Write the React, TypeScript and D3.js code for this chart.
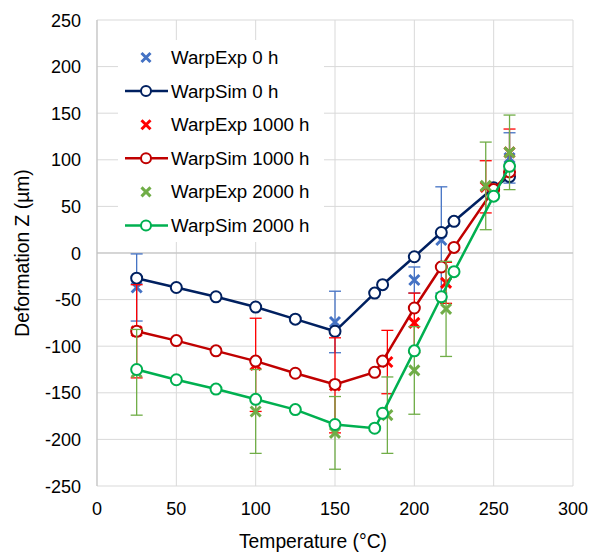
import React from "react";
import * as d3 from "d3";

// Measured warpage (markers with error bars)
const expTemp0 = [25, 150, 200, 217, 260];
const expZ0 = [-37, -74, -29, 14, 102];
const expErr0 = [36, 33, 14, 57, 27];

const expTemp1000 = [25, 100, 150, 183, 200, 220, 245, 260];
const expZ1000 = [-84, -120, -142, -117, -75, -32, 71, 108];
const expErr1000 = [50, 50, 51, 34, 32, 22, 28, 25];

const expTemp2000 = [25, 100, 150, 183, 200, 220, 245, 260];
const expZ2000 = [-128, -170, -193, -174, -126, -60, 72, 108];
const expErr2000 = [46, 45, 39, 41, 47, 51, 47, 40];

// Simulated warpage (lines with open circles)
const simTemp = [25, 50, 75, 100, 125, 150, 175, 180, 200, 217, 225, 250, 260];
const simZ0 = [-27, -37, -47, -58, -71, -84, -43, -34, -4, 22, 34, 70, 82];
const simZ1000 = [-84, -94, -105, -116, -129, -141, -128, -116, -59, -15, 6, 68, 87];
const simZ2000 = [-125, -136, -146, -157, -168, -184, -188, -172, -105, -47, -20, 61, 93];

const xTicks = [0, 50, 100, 150, 200, 250, 300];
const yTicks = [-250, -200, -150, -100, -50, 0, 50, 100, 150, 200, 250];

const W = 600;
const H = 553;
const left = 97;
const right = 573;
const top = 20;
const bottom = 486;

const FONT = "'Liberation Sans', Arial, sans-serif";

type ExpSeries = { name: string; t: number[]; z: number[]; err: number[]; color: string };
type SimSeries = { name: string; t: number[]; z: number[]; color: string };

const exps: ExpSeries[] = [
  { name: "WarpExp 0 h", t: expTemp0, z: expZ0, err: expErr0, color: "#4472C4" },
  { name: "WarpExp 1000 h", t: expTemp1000, z: expZ1000, err: expErr1000, color: "#FF0000" },
  { name: "WarpExp 2000 h", t: expTemp2000, z: expZ2000, err: expErr2000, color: "#70AD47" },
];
const sims: SimSeries[] = [
  { name: "WarpSim 0 h", t: simTemp, z: simZ0, color: "#002060" },
  { name: "WarpSim 1000 h", t: simTemp, z: simZ1000, color: "#C00000" },
  { name: "WarpSim 2000 h", t: simTemp, z: simZ2000, color: "#00B050" },
];

function XMark({ x, y, color, s = 5 }: { x: number; y: number; color: string; s?: number }) {
  return (
    <path
      d={`M${x - s},${y - s}L${x + s},${y + s}M${x - s},${y + s}L${x + s},${y - s}`}
      stroke={color}
      strokeWidth={3}
      fill="none"
    />
  );
}

export default function App() {
  const x = d3.scaleLinear().domain([0, 300]).range([left, right]);
  const y = d3.scaleLinear().domain([-250, 250]).range([bottom, top]);
  const line = d3
    .line<[number, number]>()
    .x((d) => x(d[0]))
    .y((d) => y(d[1]));

  const renderExp = (s: ExpSeries) => (
    <g key={s.name}>
      {s.t.map((t, i) => {
        const cx = x(t);
        const y1 = y(s.z[i] + s.err[i]);
        const y2 = y(s.z[i] - s.err[i]);
        return (
          <g key={i} stroke={s.color} strokeWidth={1.3}>
            <line x1={cx} x2={cx} y1={y1} y2={y2} />
            <line x1={cx - 6} x2={cx + 6} y1={y1} y2={y1} />
            <line x1={cx - 6} x2={cx + 6} y1={y2} y2={y2} />
          </g>
        );
      })}
      {s.t.map((t, i) => (
        <XMark key={"m" + i} x={x(t)} y={y(s.z[i])} color={s.color} />
      ))}
    </g>
  );

  const renderSim = (s: SimSeries) => (
    <g key={s.name}>
      <path
        d={line(s.t.map((t, i) => [t, s.z[i]] as [number, number])) || ""}
        fill="none"
        stroke={s.color}
        strokeWidth={2.5}
      />
      {s.t.map((t, i) => (
        <circle key={i} cx={x(t)} cy={y(s.z[i])} r={5.5} fill="#fff" stroke={s.color} strokeWidth={2} />
      ))}
    </g>
  );

  const legendItems = [
    { kind: "exp", s: exps[0] },
    { kind: "sim", s: sims[0] },
    { kind: "exp", s: exps[1] },
    { kind: "sim", s: sims[1] },
    { kind: "exp", s: exps[2] },
    { kind: "sim", s: sims[2] },
  ];

  return (
    <svg width={W} height={H} style={{ position: "absolute", left: 0, top: 0, background: "#fff" }}>
      <rect width={W} height={H} fill="#fff" />
      {/* grid */}
      {xTicks.map((t) => (
        <line key={"gx" + t} x1={x(t)} x2={x(t)} y1={top} y2={bottom} stroke="#d9d9d9" strokeWidth={1} />
      ))}
      {yTicks.map((t) => (
        <line key={"gy" + t} x1={left} x2={right} y1={y(t)} y2={y(t)} stroke="#d9d9d9" strokeWidth={1} />
      ))}
      <line x1={left} x2={left} y1={top} y2={bottom} stroke="#bfbfbf" strokeWidth={1} />
      <line x1={left} x2={right} y1={y(0)} y2={y(0)} stroke="#bfbfbf" strokeWidth={1} />

      {/* tick labels */}
      {yTicks.map((t) => (
        <text key={"ly" + t} x={81} y={y(t) + 6.5} textAnchor="end" fontFamily={FONT} fontSize={18} fill="#000">
          {t}
        </text>
      ))}
      {xTicks.map((t) => (
        <text key={"lx" + t} x={x(t)} y={515} textAnchor="middle" fontFamily={FONT} fontSize={18} fill="#000">
          {t}
        </text>
      ))}
      <text x={313} y={548} textAnchor="middle" fontFamily={FONT} fontSize={19.3} fill="#000">
        Temperature (°C)
      </text>
      <text
        transform={`translate(29,${y(0)}) rotate(-90)`}
        textAnchor="middle"
        fontFamily={FONT}
        fontSize={19.3}
        fill="#000"
      >
        Deformation Z (µm)
      </text>

      {/* series */}
      {renderExp(exps[0])}
      {renderSim(sims[0])}
      {renderExp(exps[1])}
      {renderSim(sims[1])}
      {renderExp(exps[2])}
      {renderSim(sims[2])}

      {/* legend */}
      <rect x={118} y={40} width={206} height={202} fill="#fff" />
      {legendItems.map((it, i) => {
        const ly = 57.5 + i * 33.6;
        return (
          <g key={"lg" + i}>
            {it.kind === "exp" ? (
              <XMark x={146} y={ly} color={it.s.color} s={4.5} />
            ) : (
              <g>
                <line x1={125} x2={168} y1={ly} y2={ly} stroke={it.s.color} strokeWidth={2.5} />
                <circle cx={146} cy={ly} r={5} fill="#fff" stroke={it.s.color} strokeWidth={2} />
              </g>
            )}
            <text x={171} y={ly + 6.5} fontFamily={FONT} fontSize={18.7} fill="#000">
              {it.s.name}
            </text>
          </g>
        );
      })}
    </svg>
  );
}
